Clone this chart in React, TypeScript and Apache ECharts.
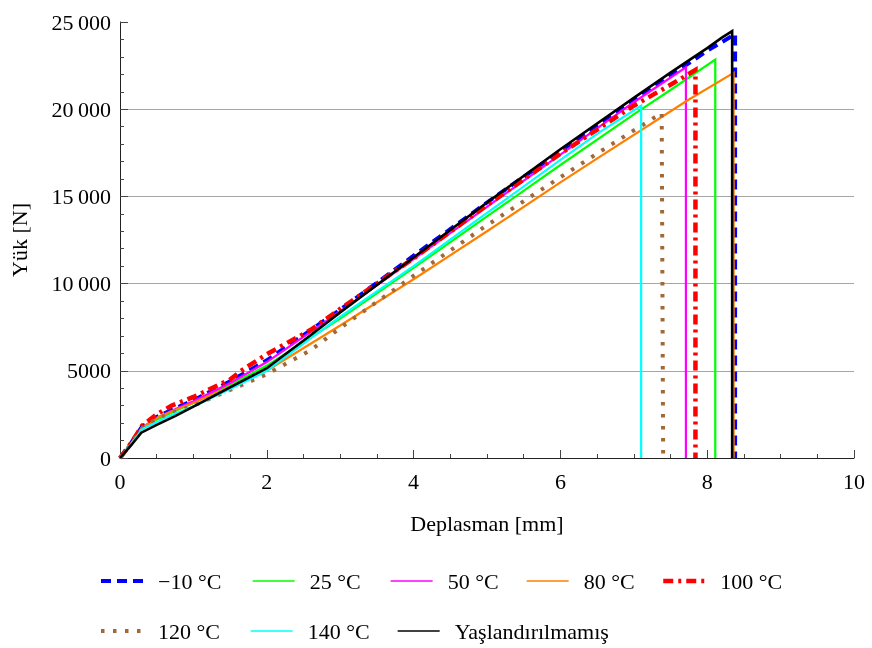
import React, { useEffect, useRef } from "react";
import * as echarts from "echarts";

const seriesNames = ["\u221210 \u00b0C", "25 \u00b0C", "50 \u00b0C", "80 \u00b0C", "100 \u00b0C", "120 \u00b0C", "140 \u00b0C", "Yaşlandırılmamış"];

const dataM10: number[][] = [[0,0],[0.15,850],[0.3,1800],[0.5,2350],[0.75,2850],[1,3300],[1.5,4400],[2,5600],[3,8500],[4,11600],[5,14650],[6,17600],[7,20500],[8,23350],[8.38,24300],[8.38,0]];
const data25: number[][] = [[0,0],[0.15,800],[0.3,1700],[0.5,2200],[0.75,2700],[1,3150],[1.5,4200],[2,5300],[3,8000],[4,10900],[5,13850],[6,16800],[7,19700],[7.5,21100],[8.11,22850],[8.11,0]];
const data50: number[][] = [[0,0],[0.15,820],[0.3,1750],[0.5,2300],[0.75,2800],[1,3250],[1.5,4300],[2,5500],[3,8400],[4,11400],[5,14400],[6,17400],[7,20400],[7.71,22400],[7.71,0]];
const data80: number[][] = [[0,0],[0.15,820],[0.3,1750],[0.5,2300],[0.75,2750],[1,3150],[1.5,4100],[2,5000],[3,7600],[4,10250],[5,13000],[6,15800],[6.54,17280],[7.74,20530],[8.36,22080],[8.36,0]];
const data100: number[][] = [[0,0],[0.15,850],[0.3,1850],[0.5,2500],[0.7,3000],[1,3500],[1.5,4500],[1.65,5000],[2,5950],[2.6,7350],[3,8550],[4,11450],[5,14500],[6,17450],[7,20200],[7.5,21400],[7.84,22250],[7.84,0]];
const data120: number[][] = [[0,0],[0.15,800],[0.3,1700],[0.5,2250],[0.75,2650],[1,3000],[1.5,3900],[2,4800],[2.6,6190],[3,7450],[4,10450],[5,13350],[6,16100],[6.59,17700],[7.38,19780],[7.4,0]];
const data140: number[][] = [[0,0],[0.15,780],[0.3,1650],[0.5,2050],[0.75,2550],[1,2950],[1.5,3950],[2,5000],[2.6,6880],[3,8100],[4,11000],[5,14050],[6,17100],[6.54,18700],[7.1,20200],[7.1,0]];
const dataAged: number[][] = [[0,0],[0.15,720],[0.29,1450],[0.5,1900],[0.75,2400],[1,2950],[1.5,4050],[2,5150],[2.6,7050],[3,8350],[4,11500],[5,14650],[6,17700],[7,20650],[7.5,22100],[8,23500],[8.2,24100],[8.34,24480],[8.34,0]];

const xTicks = [0, 2, 4, 6, 8, 10];
const yTicks = [0, 5000, 10000, 15000, 20000, 25000];

const FONT = "Liberation Serif";

export default function App() {
  const ref = useRef<HTMLDivElement>(null);
  useEffect(() => {
    const chart = echarts.init(ref.current!, null, { renderer: "svg" });
    const styles = [
      { color: "#0000ff", width: 4, type: [10, 6] },
      { color: "#00ff00", width: 2.2, type: "solid" },
      { color: "#ff00ff", width: 2.2, type: "solid" },
      { color: "#ff8000", width: 2.2, type: "solid" },
      { color: "#ff0000", width: 4.5, type: [10, 5, 3, 5] },
      { color: "#a0693c", width: 4, type: [3.5, 8.5] },
      { color: "#00ffff", width: 2.2, type: "solid" },
      { color: "#000000", width: 2.6, type: "solid" },
    ];
    const legendWidths = [4, 1.3, 1.3, 1.3, 4.5, 4, 1.3, 1.3];
    const datas = [dataM10, data25, data50, data80, data100, data120, data140, dataAged];
    const legendPos = [
      [94, 565], [247, 565], [385, 565], [521, 565], [656, 565],
      [94, 615], [245, 615], [392, 615],
    ];
    const option: any = {
      animation: false,
      grid: { left: 119, right: 18, top: 22, bottom: 190 },
      legend: seriesNames.map((n, i) => ({
        data: [n],
        left: legendPos[i][0],
        top: legendPos[i][1],
        itemWidth: 42,
        itemHeight: 14,
        lineStyle: { width: legendWidths[i] },
        itemStyle: { opacity: 0, borderWidth: 0 },
        textStyle: { fontFamily: FONT, fontSize: 22, color: "#000", padding: [0, 0, 0, 10] },
        selectedMode: false,
      })),
      xAxis: {
        type: "value",
        min: xTicks[0],
        max: xTicks[xTicks.length - 1],
        interval: 2,
        name: "Deplasman [mm]",
        nameLocation: "middle",
        nameGap: 54,
        nameTextStyle: { fontFamily: FONT, fontSize: 22, color: "#000" },
        axisLine: { lineStyle: { color: "#222", width: 1 } },
        axisTick: { inside: true, length: 8, lineStyle: { color: "#444" } },
        minorTick: { show: true, splitNumber: 4, length: 4, lineStyle: { color: "#444" } },
        axisLabel: { fontFamily: FONT, fontSize: 22, color: "#000", margin: 12 },
        splitLine: { show: false },
      },
      yAxis: {
        type: "value",
        min: yTicks[0],
        max: yTicks[yTicks.length - 1],
        interval: 5000,
        name: "Yük [N]",
        nameLocation: "middle",
        nameGap: 90,
        nameRotate: 90,
        nameTextStyle: { fontFamily: FONT, fontSize: 22, color: "#000" },
        axisLine: { show: true, lineStyle: { color: "#222", width: 1 } },
        axisTick: { show: true, inside: true, length: 8, lineStyle: { color: "#444" } },
        minorTick: { show: true, splitNumber: 5, length: 4, lineStyle: { color: "#444" } },
        axisLabel: {
          fontFamily: FONT,
          fontSize: 22,
          color: "#000",
          margin: 9,
          formatter: (v: number) =>
            v >= 10000 ? `${Math.floor(v / 1000)}\u2009${String(v % 1000).padStart(3, "0")}` : String(v),
        },
        splitLine: { show: true, showMinLine: false, showMaxLine: false, lineStyle: { color: "#a6a6a6", width: 1 } },
      },
      series: datas.map((d, i) => ({
        name: seriesNames[i],
        type: "line",
        data: d,
        symbol: "none",
        showSymbol: false,
        lineStyle: { color: styles[i].color, width: styles[i].width, type: styles[i].type, cap: "butt", join: "miter" },
        itemStyle: { color: styles[i].color },
        z: 2 + i,
      })),
    };
    chart.setOption(option);
    return () => chart.dispose();
  }, []);
  return <div ref={ref} style={{ position: "fixed", left: 0, top: 0, width: 872, height: 648 }} />;
}
